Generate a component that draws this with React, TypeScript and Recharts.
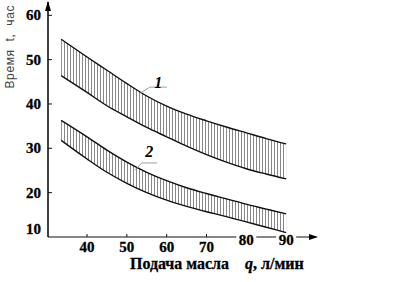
import React from "react";
import {
  ComposedChart,
  Line,
  Area,
  XAxis,
  YAxis,
  ReferenceLine,
  ReferenceDot,
  Label,
} from "recharts";

// Oil feed q, l/min
const qValues = [33.5, 40, 45, 50, 55, 60, 65, 70, 75, 80, 85, 90];
// Band 1 (upper band)
const upper1 = [54.6, 50.6, 47.6, 44.6, 41.8, 39.5, 37.7, 36.2, 34.8, 33.5, 32.2, 31.0];
const lower1 = [46.4, 42.6, 39.6, 37.1, 34.7, 32.6, 30.5, 28.6, 26.9, 25.4, 24.2, 23.1];
// Band 2 (lower band)
const upper2 = [36.3, 32.6, 29.6, 26.9, 24.6, 22.7, 21.1, 19.8, 18.6, 17.4, 16.3, 15.2];
const lower2 = [31.8, 27.6, 24.6, 22.1, 20.0, 18.3, 16.9, 15.7, 14.6, 13.4, 12.2, 11.0];

const xTicks = [40, 50, 60, 70, 80, 90];
const yTicks = [10, 20, 30, 40, 50, 60];
const xDomain = [30.2, 97.5];
const yDomain = [10, 63];

const yTitle = "Время  t,  час";
const xTitleMain = "Подача масла";
const xTitleVar = "q";
const xTitleUnit = ", л/мин";

// band annotations: label text, label anchor, leader line, underline
const bandLabels = [
  { text: "1", at: { x: 57.9, y: 45.0 }, leader: [{ x: 53.3, y: 42.4 }, { x: 55.8, y: 43.8 }], under: [{ x: 55.8, y: 43.8 }, { x: 60.1, y: 43.8 }] },
  { text: "2", at: { x: 55.6, y: 29.3 }, leader: [{ x: 52.0, y: 25.1 }, { x: 53.8, y: 26.7 }], under: [{ x: 53.8, y: 26.7 }, { x: 57.6, y: 26.7 }] },
];

const data = qValues.map((q, i) => ({
  q,
  u1: upper1[i],
  l1: lower1[i],
  u2: upper2[i],
  l2: lower2[i],
  band1: [lower1[i], upper1[i]],
  band2: [lower2[i], upper2[i]],
}));

const serif = "'Liberation Serif', 'Times New Roman', serif";
const sans = "'Liberation Sans', Arial, sans-serif";

const XTick = (props: any) => {
  const { x, y, payload } = props;
  const v = payload.value;
  const raised = v >= 80;
  return (
    <g>
      {raised ? (
        <rect x={x - 10} y={y - 4} width={20} height={10} fill="#fff" />
      ) : (
        <line x1={x} y1={y} x2={x} y2={y - 3} stroke="#111" strokeWidth={1} />
      )}
      <text
        x={x}
        y={raised ? y + 8 : y + 15}
        textAnchor="middle"
        fontFamily={serif}
        fontWeight="bold"
        fontSize={15}
        fill="#000"
        stroke="#000"
        strokeWidth={0.3}
      >
        {v}
      </text>
    </g>
  );
};

const YTick = (props: any) => {
  const { x, y, payload } = props;
  const v = payload.value;
  const shift = v === 10 ? -8 : 0;
  return (
    <g>
      {v !== 10 && <line x1={x} y1={y} x2={x + 4} y2={y} stroke="#111" strokeWidth={1} />}
      <text
        x={x - 7}
        y={y + 5 + shift}
        textAnchor="end"
        fontFamily={serif}
        fontWeight="bold"
        fontSize={15}
        fill="#000"
        stroke="#000"
        strokeWidth={0.3}
      >
        {v}
      </text>
    </g>
  );
};

const YTitle = (props: any) => {
  const vb = props.viewBox;
  const cx = vb.x + 14;
  const cy = vb.y + 45;
  return (
    <text
      x={cx}
      y={cy}
      transform={`rotate(-90, ${cx}, ${cy})`}
      textAnchor="middle"
      fontFamily={sans}
      fontSize={12}
      fill="#444"
      textLength={83}
      lengthAdjust="spacing"
      style={{ whiteSpace: "pre" }}
    >
      {yTitle}
    </text>
  );
};

const XTitle = (props: any) => {
  const vb = props.viewBox;
  const by = vb.y + 32;
  return (
    <g>
      <text
        x={vb.x + 82}
        y={by}
        fontFamily={serif}
        fontWeight="bold"
        fontSize={16}
        fill="#000"
        stroke="#000"
        strokeWidth={0.3}
        textLength={99}
        lengthAdjust="spacingAndGlyphs"
      >
        {xTitleMain}
      </text>
      <text x={vb.x + 197} y={by} fontFamily={serif} fontWeight="bold" fontSize={16} fill="#000" stroke="#000" strokeWidth={0.3}>
        <tspan fontStyle="italic">{xTitleVar}</tspan>
        <tspan>{xTitleUnit}</tspan>
      </text>
    </g>
  );
};

const UpArrow = (p: any) => (
  <polygon
    points={`${p.cx},${p.cy - 1} ${p.cx - 3},${p.cy + 9} ${p.cx + 3},${p.cy + 9}`}
    fill="#000"
  />
);
const RightArrow = (p: any) => (
  <polygon
    points={`${p.cx + 2},${p.cy} ${p.cx - 7},${p.cy - 3} ${p.cx - 7},${p.cy + 3}`}
    fill="#000"
  />
);

const makeLabel = (txt: string) => (p: any) => (
  <text
    x={p.cx}
    y={p.cy + 6}
    textAnchor="middle"
    fontFamily={serif}
    fontWeight="bold"
    fontStyle="italic"
    fontSize={16}
    fill="#000"
  >
    {txt}
  </text>
);

export default function App() {
  return (
    <div style={{ position: "absolute", left: 0, top: 0, width: 398, height: 282, background: "#fff" }}>
      <ComposedChart
        width={398}
        height={282}
        data={data}
        margin={{ top: 2, right: 82, bottom: 0, left: 0 }}
      >
        <defs>
          <pattern id="hatch" patternUnits="userSpaceOnUse" width={3} height={4}>
            <line x1={1.5} y1={0} x2={1.5} y2={4} stroke="#7a7a7a" strokeWidth={0.9} />
          </pattern>
        </defs>
        <XAxis
          dataKey="q"
          type="number"
          domain={xDomain}
          ticks={xTicks}
          allowDataOverflow
          tickSize={0}
          tickMargin={0}
          tickLine={false}
          axisLine={{ stroke: "#111", strokeWidth: 1.2 }}
          tick={<XTick />}
          height={45}
          interval={0}
        >
          <Label content={<XTitle />} />
        </XAxis>
        <YAxis
          type="number"
          domain={yDomain}
          ticks={yTicks}
          allowDataOverflow
          tickSize={0}
          tickMargin={0}
          tickLine={false}
          axisLine={{ stroke: "#000", strokeWidth: 1.5 }}
          tick={<YTick />}
          width={48}
          interval={0}
        >
          <Label content={<YTitle />} />
        </YAxis>
        <Area dataKey="band1" type="monotone" fill="url(#hatch)" fillOpacity={1} stroke="none" isAnimationActive={false} />
        <Area dataKey="band2" type="monotone" fill="url(#hatch)" fillOpacity={1} stroke="none" isAnimationActive={false} />
        <Line dataKey="u1" type="monotone" stroke="#111" strokeWidth={1.4} dot={false} isAnimationActive={false} />
        <Line dataKey="l1" type="monotone" stroke="#111" strokeWidth={1.4} dot={false} isAnimationActive={false} />
        <Line dataKey="u2" type="monotone" stroke="#111" strokeWidth={1.4} dot={false} isAnimationActive={false} />
        <Line dataKey="l2" type="monotone" stroke="#111" strokeWidth={1.4} dot={false} isAnimationActive={false} />
        {bandLabels.map((b) => (
          <ReferenceLine key={`ld${b.text}`} segment={b.leader} stroke="#888" strokeWidth={0.8} ifOverflow="visible" />
        ))}
        {bandLabels.map((b) => (
          <ReferenceLine key={`ul${b.text}`} segment={b.under} stroke="#888" strokeWidth={0.8} ifOverflow="visible" />
        ))}
        {bandLabels.map((b) => (
          <ReferenceDot key={`lb${b.text}`} x={b.at.x} y={b.at.y} r={0} ifOverflow="visible" shape={makeLabel(b.text)} />
        ))}
        <ReferenceDot x={xDomain[0]} y={yDomain[1]} r={0} ifOverflow="visible" shape={UpArrow} />
        <ReferenceDot x={xDomain[1]} y={yDomain[0]} r={0} ifOverflow="visible" shape={RightArrow} />
      </ComposedChart>
    </div>
  );
}
